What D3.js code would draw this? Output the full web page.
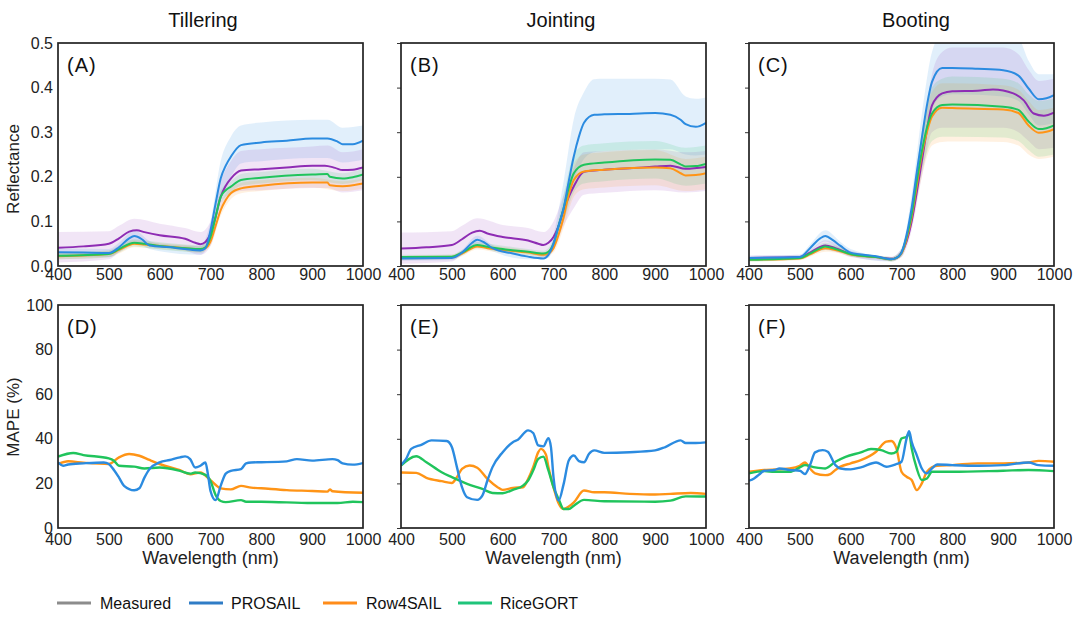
<!DOCTYPE html>
<html><head><meta charset="utf-8">
<script src="https://cdn.jsdelivr.net/npm/d3@7"></script>
<style>body{margin:0;background:#fff;}svg{display:block;font-family:"Liberation Sans",Arial,sans-serif;}</style>
</head><body><svg id="c" width="1080" height="627"></svg>
<script>
// ---------- DATA ----------
const stages = ["Tillering", "Jointing", "Booting"];
const refLabels = ["(A)", "(B)", "(C)"];
const mapeLabels = ["(D)", "(E)", "(F)"];
const xTicks = [400, 500, 600, 700, 800, 900, 1000];
const refTicks = [0, 0.1, 0.2, 0.3, 0.4, 0.5];
const mapeTicks = [0, 20, 40, 60, 80, 100];
const legendNames = ["Measured", "PROSAIL", "Row4SAIL", "RiceGORT"];

// Reflectance, Tillering (A): [nm, value] and bands [nm, lo, hi]
const A_meas = [[400,0.041],[450,0.044],[500,0.050],[520,0.062],[540,0.077],[555,0.080],[570,0.076],[600,0.069],[650,0.061],[670,0.052],[680,0.049],[690,0.054],[700,0.073],[710,0.11],[720,0.155],[730,0.180],[740,0.196],[760,0.214],[800,0.217],[850,0.221],[900,0.225],[925,0.225],[945,0.22],[960,0.215],[980,0.216],[1000,0.221]];
const A_measBand = [[400,0.008,0.076],[500,0.015,0.078],[520,0.03,0.09],[550,0.05,0.106],[600,0.045,0.095],[650,0.035,0.085],[680,0.025,0.076],[700,0.045,0.1],[720,0.12,0.19],[740,0.16,0.235],[760,0.168,0.258],[800,0.17,0.262],[900,0.175,0.268],[930,0.175,0.27],[960,0.165,0.255],[1000,0.17,0.262]];
const A_pro = [[400,0.031],[450,0.03],[500,0.029],[520,0.042],[540,0.062],[550,0.067],[565,0.060],[580,0.046],[620,0.042],[650,0.038],[680,0.035],[690,0.04],[700,0.08],[710,0.14],[720,0.196],[730,0.225],[740,0.245],[760,0.271],[800,0.277],[850,0.281],[900,0.286],[930,0.286],[950,0.279],[960,0.273],[980,0.273],[1000,0.281]];
const A_proBand = [[400,0.022,0.04],[500,0.02,0.038],[520,0.032,0.052],[550,0.055,0.08],[580,0.038,0.056],[600,0.033,0.05],[680,0.025,0.045],[700,0.06,0.1],[720,0.16,0.235],[740,0.2,0.29],[760,0.23,0.315],[800,0.235,0.322],[900,0.242,0.328],[930,0.242,0.328],[960,0.232,0.31],[1000,0.238,0.315]];
const A_row = [[400,0.022],[500,0.027],[520,0.036],[550,0.050],[570,0.048],[600,0.045],[650,0.04],[680,0.037],[690,0.04],[700,0.055],[710,0.09],[720,0.125],[730,0.148],[740,0.163],[760,0.174],[800,0.18],[900,0.187],[930,0.187],[935,0.181],[960,0.179],[980,0.181],[1000,0.185]];
const A_rowBand = [[400,0.015,0.029],[500,0.02,0.034],[520,0.028,0.044],[550,0.042,0.058],[580,0.04,0.054],[650,0.033,0.047],[680,0.03,0.044],[700,0.045,0.065],[720,0.112,0.138],[740,0.15,0.176],[760,0.163,0.186],[800,0.168,0.192],[900,0.176,0.198],[960,0.168,0.19],[1000,0.174,0.196]];
const A_rice = [[400,0.023],[500,0.027],[520,0.038],[550,0.052],[570,0.05],[600,0.045],[650,0.04],[680,0.038],[690,0.042],[700,0.065],[710,0.11],[720,0.155],[730,0.17],[740,0.178],[760,0.193],[800,0.198],[900,0.205],[930,0.206],[935,0.2],[960,0.196],[980,0.199],[1000,0.205]];
const A_riceBand = [[400,0.015,0.031],[500,0.019,0.035],[520,0.03,0.046],[550,0.044,0.06],[580,0.04,0.056],[650,0.032,0.048],[680,0.03,0.046],[700,0.055,0.075],[720,0.14,0.17],[740,0.165,0.19],[760,0.18,0.206],[800,0.185,0.211],[900,0.192,0.218],[960,0.184,0.208],[1000,0.192,0.218]];

// Reflectance, Jointing (B)
const B_meas = [[400,0.039],[450,0.042],[500,0.047],[520,0.06],[540,0.075],[555,0.079],[570,0.073],[600,0.065],[650,0.057],[670,0.05],[680,0.047],[690,0.052],[700,0.065],[710,0.09],[720,0.126],[730,0.155],[740,0.179],[760,0.211],[800,0.216],[850,0.219],[900,0.223],[930,0.225],[960,0.218],[1000,0.222]];
const B_measBand = [[400,0.005,0.075],[500,0.01,0.078],[520,0.025,0.09],[550,0.05,0.107],[600,0.04,0.092],[650,0.03,0.085],[680,0.02,0.076],[700,0.035,0.1],[720,0.09,0.16],[740,0.13,0.22],[760,0.16,0.255],[800,0.164,0.258],[900,0.17,0.262],[960,0.165,0.255],[1000,0.168,0.258]];
const B_pro = [[400,0.017],[500,0.018],[520,0.03],[540,0.052],[550,0.059],[565,0.052],[580,0.04],[620,0.028],[650,0.021],[680,0.017],[690,0.025],[700,0.05],[710,0.09],[720,0.13],[730,0.19],[740,0.246],[750,0.29],[760,0.321],[780,0.339],[800,0.34],[850,0.341],[900,0.343],[930,0.339],[950,0.328],[960,0.318],[980,0.312],[1000,0.321]];
const B_proBand = [[400,0.012,0.022],[500,0.013,0.023],[520,0.024,0.036],[550,0.05,0.068],[580,0.033,0.047],[650,0.015,0.027],[690,0.018,0.032],[700,0.04,0.07],[720,0.1,0.19],[740,0.19,0.33],[760,0.24,0.39],[780,0.255,0.419],[800,0.258,0.42],[900,0.262,0.42],[930,0.262,0.418],[960,0.25,0.38],[980,0.248,0.375],[1000,0.25,0.378]];
const B_row = [[400,0.018],[500,0.02],[520,0.028],[550,0.044],[570,0.04],[600,0.036],[650,0.03],[680,0.025],[690,0.028],[700,0.04],[710,0.07],[720,0.11],[730,0.16],[740,0.193],[760,0.212],[800,0.216],[900,0.221],[930,0.219],[950,0.208],[960,0.203],[980,0.204],[1000,0.208]];
const B_rowBand = [[400,0.013,0.023],[500,0.015,0.025],[520,0.022,0.034],[550,0.037,0.051],[580,0.032,0.046],[650,0.024,0.036],[680,0.019,0.031],[700,0.03,0.05],[720,0.085,0.135],[740,0.155,0.23],[760,0.172,0.25],[800,0.176,0.255],[900,0.181,0.26],[960,0.168,0.24],[1000,0.172,0.245]];
const B_rice = [[400,0.02],[500,0.021],[520,0.03],[550,0.047],[570,0.043],[600,0.038],[650,0.032],[680,0.028],[690,0.032],[700,0.05],[710,0.09],[720,0.13],[730,0.175],[740,0.208],[760,0.227],[800,0.232],[900,0.239],[930,0.238],[950,0.228],[960,0.223],[980,0.224],[1000,0.229]];
const B_riceBand = [[400,0.015,0.025],[500,0.016,0.026],[520,0.024,0.036],[550,0.04,0.054],[580,0.035,0.049],[650,0.026,0.038],[680,0.022,0.034],[700,0.04,0.06],[720,0.1,0.16],[740,0.165,0.25],[760,0.185,0.27],[800,0.19,0.275],[900,0.196,0.28],[960,0.18,0.265],[1000,0.185,0.27]];

// Reflectance, Booting (C)
const C_meas = [[400,0.018],[500,0.02],[520,0.03],[540,0.043],[550,0.046],[570,0.04],[600,0.027],[650,0.02],[680,0.016],[690,0.018],[700,0.03],[710,0.055],[720,0.1],[730,0.165],[740,0.235],[750,0.305],[760,0.36],[780,0.387],[800,0.392],[850,0.393],[880,0.396],[920,0.387],[940,0.372],[960,0.342],[980,0.337],[1000,0.344]];
const C_measBand = [[400,0.013,0.023],[500,0.015,0.025],[520,0.024,0.036],[550,0.036,0.058],[580,0.028,0.046],[600,0.02,0.034],[680,0.011,0.021],[700,0.02,0.04],[720,0.08,0.12],[740,0.2,0.28],[760,0.3,0.43],[780,0.31,0.48],[800,0.31,0.49],[900,0.31,0.49],[930,0.3,0.475],[950,0.28,0.44],[970,0.262,0.415],[1000,0.265,0.42]];
const C_pro = [[400,0.018],[500,0.02],[520,0.04],[540,0.062],[550,0.067],[565,0.058],[580,0.045],[600,0.03],[650,0.022],[680,0.015],[690,0.018],[700,0.03],[710,0.07],[720,0.131],[730,0.21],[740,0.287],[750,0.36],[760,0.413],[780,0.444],[800,0.444],[850,0.442],[900,0.439],[930,0.427],[950,0.398],[970,0.374],[985,0.376],[1000,0.383]];
const C_proBand = [[400,0.013,0.023],[500,0.015,0.025],[520,0.032,0.048],[550,0.055,0.08],[580,0.036,0.054],[600,0.022,0.038],[680,0.01,0.02],[700,0.02,0.04],[720,0.1,0.16],[740,0.24,0.34],[760,0.35,0.48],[780,0.38,0.52],[800,0.385,0.52],[900,0.38,0.52],[930,0.37,0.51],[950,0.34,0.46],[970,0.315,0.43],[1000,0.32,0.43]];
const C_row = [[400,0.014],[500,0.017],[520,0.026],[540,0.037],[550,0.04],[570,0.036],[600,0.026],[650,0.02],[680,0.015],[690,0.018],[700,0.028],[710,0.06],[720,0.11],[730,0.18],[740,0.25],[750,0.3],[760,0.335],[780,0.355],[800,0.354],[900,0.351],[930,0.343],[950,0.315],[970,0.299],[985,0.301],[1000,0.307]];
const C_rowBand = [[400,0.01,0.018],[500,0.013,0.021],[520,0.021,0.031],[550,0.032,0.048],[580,0.028,0.04],[600,0.021,0.031],[650,0.016,0.024],[680,0.01,0.02],[700,0.022,0.034],[720,0.09,0.13],[740,0.2,0.29],[760,0.27,0.39],[780,0.278,0.41],[800,0.279,0.41],[900,0.278,0.405],[930,0.27,0.395],[950,0.25,0.37],[970,0.24,0.35],[1000,0.245,0.355]];
const C_rice = [[400,0.014],[500,0.018],[520,0.028],[540,0.04],[550,0.044],[570,0.038],[600,0.027],[650,0.02],[680,0.015],[690,0.018],[700,0.03],[710,0.065],[720,0.116],[730,0.19],[740,0.257],[750,0.31],[760,0.342],[780,0.361],[800,0.362],[900,0.357],[930,0.35],[950,0.324],[970,0.307],[985,0.309],[1000,0.315]];
const C_riceBand = [[400,0.01,0.018],[500,0.014,0.022],[520,0.023,0.033],[550,0.036,0.052],[580,0.03,0.042],[600,0.022,0.032],[650,0.016,0.024],[680,0.01,0.02],[700,0.024,0.036],[720,0.095,0.14],[740,0.21,0.3],[760,0.28,0.4],[780,0.29,0.42],[800,0.29,0.425],[900,0.288,0.42],[930,0.28,0.41],[950,0.26,0.385],[970,0.245,0.37],[1000,0.25,0.375]];

// MAPE (%), Tillering (D)
const D_pro = [[400,29.4],[410,27.9],[420,28.5],[450,29],[490,29.4],[500,28.7],[510,26],[520,22.6],[530,18.9],[550,16.9],[560,17.8],[570,22.6],[580,26.4],[600,29.4],[620,30.5],[640,31.7],[650,32.1],[660,30.9],[670,27.1],[680,27.9],[690,29.4],[695,24],[700,16.6],[710,12.5],[720,18.9],[730,24.4],[740,25.6],[760,26.4],[770,29],[780,29.4],[800,29.5],[850,29.9],[870,30.9],[900,30.2],[940,30.9],[950,30.4],[960,29],[980,28.4],[1000,29.1]];
const D_row = [[400,28.7],[420,29.9],[450,29.3],[500,28.7],[520,31.7],[540,33.2],[560,32.4],[580,30.5],[600,28.7],[640,25.9],[660,24.1],[680,24.9],[700,21.4],[720,17.8],[740,17.3],[760,18.9],[780,18.1],[800,17.8],[850,17],[900,16.6],[930,16.3],[935,17.3],[940,16.5],[1000,15.8]];
const D_rice = [[400,32],[430,33.6],[450,32.7],[500,31.2],[510,30.2],[520,27.9],[550,27.5],[570,26.7],[600,27.1],[640,25.6],[660,24.4],[670,24.9],[690,23.8],[700,21.1],[710,14.8],[720,12.1],[730,11.6],[760,12.5],[770,11.8],[800,11.8],[900,11.2],[950,11.2],[980,11.8],[1000,11.6]];

// MAPE (%), Jointing (E)
const E_pro = [[400,28.3],[410,31],[420,35.5],[440,37.3],[460,39.3],[490,39],[500,36.3],[510,27.3],[520,18.3],[530,13.8],[550,12.6],[560,14.5],[570,21.3],[580,27.3],[600,34],[620,38.5],[630,39.6],[650,43.8],[660,42.6],[670,37],[680,36.6],[690,40.3],[695,36.3],[700,22.8],[710,12.3],[720,19.8],[730,30.3],[740,32.5],[750,30],[760,29.5],[770,33.3],[780,34.8],[800,33.7],[850,34],[900,34.8],[920,36.3],[950,39.3],[960,38.1],[980,38.1],[1000,38.4]];
const E_row = [[400,24.9],[430,24.7],[450,22.5],[480,21],[500,20.2],[510,22.8],[520,26.5],[535,28],[550,27],[570,22],[590,18.3],[600,17.1],[620,18],[640,18.3],[650,22],[660,27.3],[670,34],[675,35.5],[685,33],[690,27.3],[700,18.3],[710,11.1],[720,8.5],[730,9.6],[740,11.5],[760,16.8],[780,16],[800,16],[850,15.3],[900,15],[930,15.3],[970,15.7],[1000,15.3]];
const E_rice = [[400,28],[430,32.2],[450,29.5],[480,25],[500,22.8],[530,19.8],[560,17.5],[580,15.7],[600,15.6],[620,17.1],[640,19],[650,21.3],[660,25.8],[670,31],[680,32],[690,25.8],[700,18.3],[710,13],[720,8.5],[730,8.5],[740,10],[760,12.6],[800,12],[900,11.8],[930,12.3],[960,14.2],[1000,14.1]];

// MAPE (%), Booting (F)
const F_pro = [[400,21.2],[410,22.2],[420,24],[430,25.7],[450,26],[460,26.7],[480,26],[500,25.7],[510,24.2],[520,28.2],[530,33.9],[545,34.9],[555,34.2],[570,28.2],[580,26.7],[600,26.3],[620,27.2],[650,29.4],[670,27.5],[690,28.7],[700,29.7],[710,40.1],[715,43.4],[720,38.7],[730,32.7],[740,26.7],[750,24.5],[760,26.7],[770,28.5],[800,28.2],[850,27.9],[900,28.2],[950,29.4],[970,28.2],[1000,27.9]];
const F_row = [[400,25.2],[430,26],[480,26.7],[500,27.9],[510,29.4],[520,26.7],[530,24.5],[550,23.7],[560,24.2],[570,26],[580,27.5],[600,29],[620,30.4],[650,34.2],[670,38.7],[680,39],[690,35.7],[700,25.2],[710,23],[720,21.5],[730,17],[740,20],[750,25.2],[770,27.9],[800,28.2],[850,29],[900,29],[950,29.4],[970,30.1],[1000,29.7]];
const F_rice = [[400,24.5],[430,25.5],[450,25.2],[480,25.2],[500,27.2],[510,28.2],[530,27.2],[550,26.7],[570,29.7],[590,31.9],[620,33.9],[640,35.4],[660,34.9],[680,33.4],[690,34.2],[700,40.1],[710,40.9],[715,42.4],[720,35.7],[730,26.7],[740,21.5],[750,22.2],[760,25.2],[800,25.2],[900,25.7],[950,26],[1000,25.5]];

// ---------- STYLE / LAYOUT ----------
const COL = {meas:"#8e2cb4", pro:"#2b8be0", row:"#ff9416", rice:"#20c45c"};
const legendColors = ["#8c8c8c", "#2f7cc6", "#ff8c1a", "#1fc47a"];
const colX = [58, 401, 749], W = 305;
const rowY = [43, 305], H = 223;
const titleX = [203, 561, 916];
const FONT = "'Liberation Sans', Arial, sans-serif";

const svg = d3.select("#c");
const x = d3.scaleLinear().domain([400, 1000]);

const refSets = [
  {meas:A_meas, measB:A_measBand, pro:A_pro, proB:A_proBand, row:A_row, rowB:A_rowBand, rice:A_rice, riceB:A_riceBand},
  {meas:B_meas, measB:B_measBand, pro:B_pro, proB:B_proBand, row:B_row, rowB:B_rowBand, rice:B_rice, riceB:B_riceBand},
  {meas:C_meas, measB:C_measBand, pro:C_pro, proB:C_proBand, row:C_row, rowB:C_rowBand, rice:C_rice, riceB:C_riceBand}
];
const mapeSets = [
  {pro:D_pro, row:D_row, rice:D_rice},
  {pro:E_pro, row:E_row, rice:E_rice},
  {pro:F_pro, row:F_row, rice:F_rice}
];

function panel(ci, ri, yDomain, ticks, fmt, label, drawFn) {
  const g = svg.append("g").attr("transform", `translate(${colX[ci]},${rowY[ri]})`);
  const xs = x.copy().range([0, W]);
  const ys = d3.scaleLinear().domain(yDomain).range([H, 0]);
  const id = `clip${ci}${ri}`;
  g.append("clipPath").attr("id", id).append("rect").attr("width", W).attr("height", H);
  const plot = g.append("g").attr("clip-path", `url(#${id})`);
  drawFn(plot, xs, ys);
  // y axis
  const ya = g.append("g").call(d3.axisLeft(ys).tickValues(ticks).tickSize(ci === 0 ? 0 : 4).tickPadding(5)
      .tickFormat(ci === 0 ? fmt : () => ""));
  ya.select(".domain").remove();
  ya.selectAll("line").attr("stroke", "#333");
  ya.selectAll("text").attr("font-size", 16).attr("font-family", FONT).attr("fill", "#222");
  // x axis
  const xa = g.append("g").attr("transform", `translate(0,${H})`)
      .call(d3.axisBottom(xs).tickValues(xTicks).tickSize(0).tickPadding(ri === 0 ? 3 : 6).tickFormat(d3.format("d")));
  xa.select(".domain").remove();
  xa.selectAll("text").attr("font-size", 16).attr("font-family", FONT).attr("fill", "#222");
  // frame
  g.append("rect").attr("width", W).attr("height", H).attr("fill", "none").attr("stroke", "#222").attr("stroke-width", 1.7);
  g.append("text").attr("x", 9).attr("y", 29).attr("font-size", 20).attr("letter-spacing", 1)
    .attr("font-family", FONT).attr("fill", "#111").text(label);
  return g;
}

const lineGen = (xs, ys) => d3.line().x(d => xs(d[0])).y(d => ys(d[1])).curve(d3.curveMonotoneX);
const areaGen = (xs, ys) => d3.area().x(d => xs(d[0])).y0(d => ys(d[1])).y1(d => ys(d[2])).curve(d3.curveMonotoneX);

// Reflectance panels
refSets.forEach((s, ci) => {
  panel(ci, 0, [0, 0.5], refTicks, d3.format(".1f"), refLabels[ci], (p, xs, ys) => {
    const ar = areaGen(xs, ys), ln = lineGen(xs, ys);
    [["proB","pro",0.14],["measB","meas",0.12],["rowB","row",0.13],["riceB","rice",0.13]].forEach(([k, c, o]) => {
      p.append("path").datum(s[k]).attr("d", ar).attr("fill", COL[c]).attr("fill-opacity", o).attr("stroke", "none");
    });
    ["meas","row","rice","pro"].forEach(k => {
      p.append("path").datum(s[k]).attr("d", ln).attr("fill", "none").attr("stroke", COL[k]).attr("stroke-width", 2);
    });
  });
});

// MAPE panels
mapeSets.forEach((s, ci) => {
  panel(ci, 1, [0, 100], mapeTicks, d3.format("d"), mapeLabels[ci], (p, xs, ys) => {
    const ln = lineGen(xs, ys);
    ["row","rice","pro"].forEach(k => {
      p.append("path").datum(s[k]).attr("d", ln).attr("fill", "none").attr("stroke", COL[k]).attr("stroke-width", 2.4);
    });
  });
});

// Column titles and x titles
stages.forEach((t, i) => {
  svg.append("text").attr("x", titleX[i]).attr("y", 27).attr("text-anchor", "middle")
    .attr("font-size", 20).attr("font-family", FONT).attr("fill", "#111").text(t);
  svg.append("text").attr("x", colX[i] + W / 2).attr("y", 564).attr("text-anchor", "middle")
    .attr("font-size", 18).attr("font-family", FONT).attr("fill", "#222").text("Wavelength (nm)");
});

// Y axis titles
svg.append("text").attr("transform", `translate(19,169) rotate(-90)`).attr("text-anchor", "middle")
  .attr("font-size", 17).attr("font-family", FONT).attr("fill", "#222").text("Reflectance");
svg.append("text").attr("transform", `translate(19,417) rotate(-90)`).attr("text-anchor", "middle")
  .attr("font-size", 17).attr("font-family", FONT).attr("fill", "#222").text("MAPE (%)");

// Legend
const legX = [57, 189, 323, 458];
const legTextX = [100, 231, 366, 500];
legendNames.forEach((n, i) => {
  svg.append("line").attr("x1", legX[i]).attr("x2", legX[i] + 34).attr("y1", 603).attr("y2", 603)
    .attr("stroke", legendColors[i]).attr("stroke-width", 3);
  svg.append("text").attr("x", legTextX[i]).attr("y", 609).attr("font-size", 16).attr("font-family", FONT)
    .attr("fill", "#111").text(n);
});
</script></body></html>
